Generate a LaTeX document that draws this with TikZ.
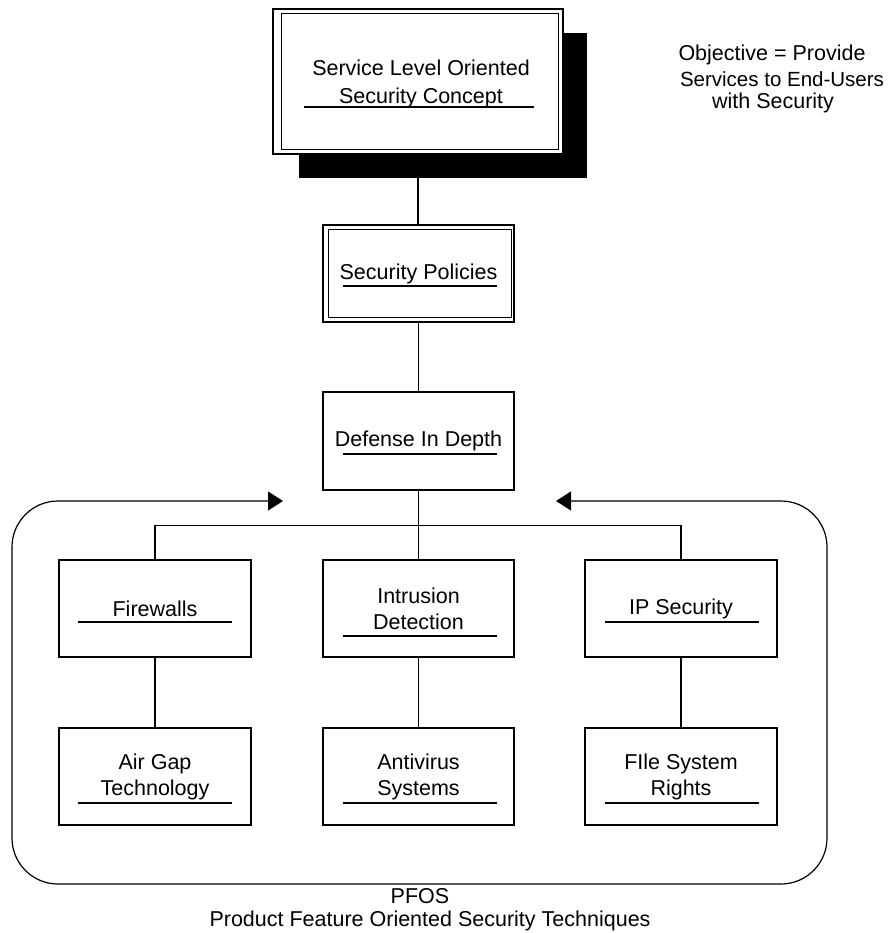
\documentclass[tikz,border=0pt]{standalone}
\usepackage{fontspec}
\setmainfont{Liberation Sans}
\usetikzlibrary{arrows.meta,calc}
\newcommand\ulbox[4]{\draw[uline] ($(#1.center)+(#2,#4)$) -- ($(#1.center)+(#3,#4)$);}
\begin{document}
\begin{tikzpicture}[x=1pt,y=-1pt,
  box/.style={draw, line width=1.2pt, fill=white, rectangle, inner sep=0pt, align=center,
              font=\fontsize{21.5}{26}\selectfont},
  conn/.style={line width=1.1pt},
  uline/.style={line width=1.2pt},
  lbl/.style={inner sep=0pt, font=\fontsize{21.5}{25}\selectfont},
  enclose/.style={line width=1.2pt, rounded corners=46pt,
     {Triangle[length=15pt,width=19pt]}-{Triangle[length=15pt,width=19pt]}}]
\useasboundingbox (0,0) rectangle (888,933);

% connector hidden partly behind shadow
\coordinate (slobot) at (418,154);
\coordinate (sptop) at (418,225);
\draw[conn] (slobot) -- (sptop);

% top box with shadow
\node[fill=black, minimum width=288pt, minimum height=145pt, inner sep=0pt] (shadow) at (443,105.5) {};
\node[box, minimum width=290pt, minimum height=145pt] (slo) at (418,81.5) {};
\draw[line width=1.2pt] ($(slo.north west)+(9,5)$) rectangle ($(slo.south east)+(-5,-5)$);
\node[lbl, align=center, font=\fontsize{21.5}{28}\selectfont] (slotext) at (421,84) {Service Level Oriented\\Security Concept};
\ulbox{slo}{-114}{116}{25.5}

% security policies
\node[box, minimum width=191pt, minimum height=97pt] (sp) at (418.5,273.5) {Security Policies};
\draw[line width=1.2pt] ($(sp.north west)+(6,5)$) rectangle ($(sp.south east)+(-3,-5)$);
\ulbox{sp}{-75.5}{78.5}{12.5}

% defense in depth
\node[box, minimum width=191pt, minimum height=98pt] (def) at (418.5,441) {Defense In Depth};
\ulbox{def}{-75.5}{78.5}{13}

% first row
\node[box, minimum width=192pt, minimum height=97pt] (fw) at (155,608.5) {Firewalls};
\node[box, minimum width=191pt, minimum height=97pt] (id) at (418.5,608.5) {Intrusion\\Detection};
\node[box, minimum width=192pt, minimum height=97pt] (ip) at (681,608.5) {IP Security};
\ulbox{fw}{-77}{77}{13.5}
\ulbox{id}{-75.5}{78.5}{27.5}
\ulbox{ip}{-76}{78}{13.5}

% second row
\node[box, minimum width=192pt, minimum height=97pt] (ag) at (155,776.5) {Air Gap\\Technology};
\node[box, minimum width=191pt, minimum height=97pt] (av) at (418.5,776.5) {Antivirus\\Systems};
\node[box, minimum width=192pt, minimum height=97pt] (fs) at (681,776.5) {FIle System\\Rights};
\ulbox{ag}{-77}{77}{26.5}
\ulbox{av}{-75.5}{78.5}{26.5}
\ulbox{fs}{-76}{78}{26.5}

% connectors
\draw[conn] (sp.south) -- (def.north);
\draw[conn] (def.south) -- (id.north);
\draw[conn] (fw.north) -- ++(0,-34) -| (ip.north);
\draw[conn] (fw.south) -- (ag.north);
\draw[conn] (id.south) -- (av.north);
\draw[conn] (ip.south) -- (fs.north);

% PFOS enclosure with arrows
\coordinate (arR) at (556,501);
\coordinate (arL) at (283,501);
\draw[enclose] (arR) -- (827,501) -- (827,884) -- (12,884) -- (12,501) -- (arL);

% labels
\node[lbl] (obj1) at (772,55) {Objective = Provide};
\node[lbl, font=\fontsize{20.5}{25}\selectfont] (obj2) at (782,79) {Services to End-Users};
\node[lbl] (obj3) at (773,103) {with Security};
\node[lbl] (pfos) at (420,896) {PFOS};
\node[lbl] (pfost) at (430,921) {Product Feature Oriented Security Techniques};
\end{tikzpicture}
\end{document}
